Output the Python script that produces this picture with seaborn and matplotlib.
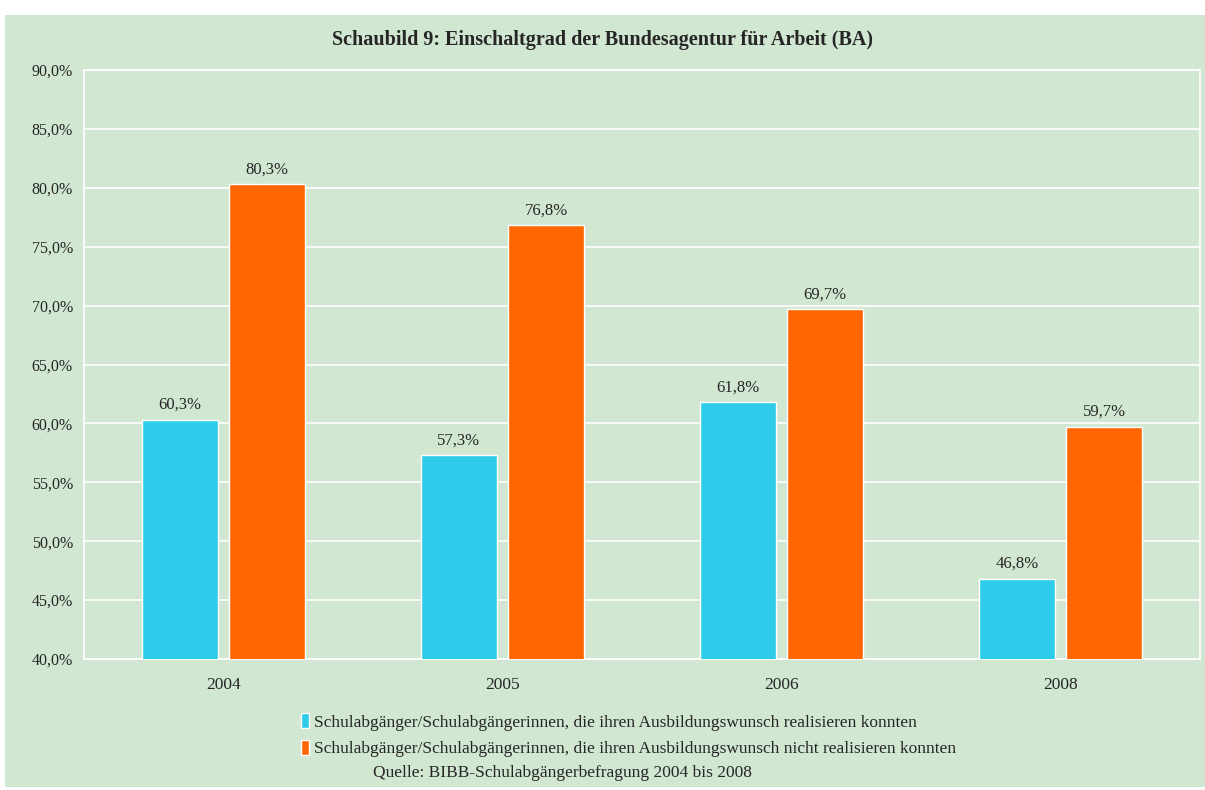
import matplotlib
matplotlib.use("Agg")
import matplotlib.pyplot as plt
import seaborn as sns
import pandas as pd
from matplotlib.patches import Rectangle

years = ["2004", "2005", "2006", "2008"]
realisiert = [60.3, 57.3, 61.8, 46.8]
nicht_realisiert = [80.3, 76.8, 69.7, 59.7]
series = [
    "Schulabgänger/Schulabgängerinnen, die ihren Ausbildungswunsch realisieren konnten",
    "Schulabgänger/Schulabgängerinnen, die ihren Ausbildungswunsch nicht realisieren konnten",
]
yticks = [40, 45, 50, 55, 60, 65, 70, 75, 80, 85, 90]

df = pd.DataFrame({
    "Jahr": years * 2,
    "Wert": realisiert + nicht_realisiert,
    "Gruppe": [series[0]] * 4 + [series[1]] * 4,
})

bg = "#d1e7d1"
colors = ["#2ecbea", "#ff6600"]

sns.set_style("white")
plt.rcParams["font.family"] = ["Liberation Serif", "DejaVu Serif"]

fig = plt.figure(figsize=(12.05, 7.9), dpi=100, facecolor="white")
fig.add_artist(Rectangle((5 / 1205, 3 / 790), 1200 / 1205, 772 / 790,
                         transform=fig.transFigure, facecolor=bg,
                         edgecolor="none", zorder=-5))
ax = fig.add_axes([84 / 1205, 131 / 790, 1116 / 1205, 589 / 790])
ax.set_facecolor(bg)

sns.barplot(data=df, x="Jahr", y="Wert", hue="Gruppe", palette=colors,
            saturation=1, width=0.625, gap=0.13, edgecolor="white",
            linewidth=1, ax=ax, zorder=3)

ax.set_ylim(40, 90)
ax.set_yticks(yticks)
ax.set_yticklabels([f"{v:.1f}%".replace(".", ",") for v in yticks])
ax.tick_params(axis="y", length=0, labelsize=11.5, pad=8)
ax.tick_params(axis="x", length=0, labelsize=12.5, pad=13)
ax.grid(axis="y", color="white", linewidth=1.2, zorder=0)
ax.set_axisbelow(True)
for s in ax.spines.values():
    s.set_color("white")
    s.set_linewidth(1.2)
ax.set_xlabel("")
ax.set_ylabel("")

for cont in ax.containers:
    ax.bar_label(cont, labels=[f"{v:.1f}%".replace(".", ",") for v in cont.datavalues],
                 padding=5, fontsize=12)

handles, labels = ax.get_legend_handles_labels()
ax.legend(handles, labels, loc="upper center", bbox_to_anchor=(0.488, -0.066),
          frameon=False, fontsize=12.5, handlelength=0.45, handleheight=0.9,
          handletextpad=0.3, labelspacing=0.55)

fig.text(0.5, 1 - 40 / 790, "Schaubild 9: Einschaltgrad der Bundesagentur für Arbeit (BA)",
         ha="center", va="center", fontsize=14.5, fontweight="bold")
fig.text(562 / 1205, 1 - 773 / 790, "Quelle: BIBB-Schulabgängerbefragung 2004 bis 2008",
         ha="center", va="center", fontsize=12.5)

fig.savefig("out.png", dpi=100, facecolor="white")
